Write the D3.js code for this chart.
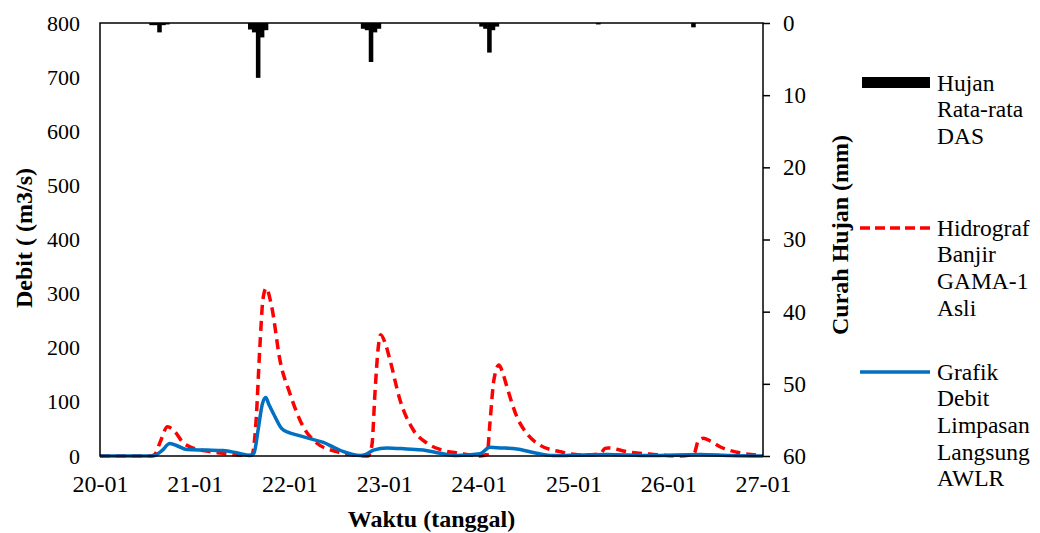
<!DOCTYPE html>
<html lang="en">
<head>
<meta charset="UTF-8">
<title>Hidrograf Banjir</title>
<script src="https://cdn.jsdelivr.net/npm/d3@7"></script>
<style>
    body { margin: 0; background: #fff; }
    text { font-family: "Liberation Serif", "Times New Roman", serif; }
</style>
</head>
<body>
<div id="chart"></div>
<script>
    // time is in hours from 20-01 00:00
    var startDate = new Date(2020, 0, 20);

    // rainfall (mm), hourly bars hanging from the top
    var rainHours = [13, 14, 15, 16, 17, 38, 39, 40, 41, 42, 66.6, 67.6, 68.6, 69.6, 70.6, 96.6, 97.6, 98.6, 99.5, 100.5, 126.2, 150.3];
    var rainMm    = [0.3, 0.3, 1.3, 0.3, 0.2, 0.9, 1.3, 7.6, 2.0, 1.0, 0.8, 1.0, 5.4, 1.3, 0.8, 0.5, 0.8, 4.1, 1.0, 0.5, 0.2, 0.6];

    // Hidrograf Banjir GAMA-1 Asli (m3/s)
    var gamaHours = [0, 12.7, 13.9, 15.2, 17.1, 19, 21, 22.8, 27, 31.2, 37.2, 38.5, 39.5, 40.5, 41.3, 42.1, 43.5, 45.6, 48.1, 51.5, 54.9, 60, 65, 67.9,
                     68.9, 69.7, 70.5, 71.1, 72.2, 73.5, 76, 79.4, 82.8, 86.2, 91.2, 96.3, 98.1, 98.8, 99.8, 101.1, 102.2, 103.1, 105.6, 108.1, 111.5,
                     116.6, 121.6, 126.7, 128, 128.8, 133.5, 140.2, 147, 150.5, 151.6, 152.9, 154.6, 157.1, 161.4, 168];
    var gamaQ     = [0, 0, 3, 25, 54, 45, 25, 17, 9, 5, 1, 2, 60, 200, 290, 310, 276, 177, 116, 54, 24, 8, 1, 0,
                     20, 120, 200, 224, 210, 177, 104, 48, 24, 12, 5, 0, 3, 60, 140, 168, 150, 128, 73, 42, 20,
                     8, 2, 4, 14, 15, 8, 3, 0, 4, 28, 33, 28, 17, 7, 1];

    // Grafik Debit Limpasan Langsung AWLR (m3/s)
    var awlrHours = [0, 12.7, 13.9, 15.7, 17.7, 19.8, 22, 27, 31.2, 34.6, 38, 39, 40.1, 41.1, 42, 42.8, 43.9, 46, 47.6, 49.8, 53.2, 56.6, 59, 61.7,
                     65.9, 67.4, 69.3, 72.7, 77.7, 81.9, 86.2, 90.4, 96.3, 98.8, 101.4, 105.6, 110.7, 114.8, 121.6, 128.4, 139.4, 152, 159.7, 168];
    var awlrQ     = [0, 0, 1, 10, 23, 18, 12, 11, 10, 6, 1, 5, 50, 95, 108, 95, 79, 51, 44, 39, 32, 25, 17, 8,
                     1, 3, 11, 15, 13, 11, 5, 1, 4, 16, 15, 13, 5, 1, 2, 3, 1, 3, 1, 0];

    var debitTicks = [0, 100, 200, 300, 400, 500, 600, 700, 800];
    var rainTicks = [0, 10, 20, 30, 40, 50, 60];

    var legendRain = ['Hujan', 'Rata-rata', 'DAS'];
    var legendGama = ['Hidrograf', 'Banjir', 'GAMA-1', 'Asli'];
    var legendAwlr = ['Grafik', 'Debit', 'Limpasan', 'Langsung', 'AWLR'];

    var width = 1040, height = 533;
    var margin = {top: 23, right: 277, bottom: 77, left: 100};

    function toDate(h) { return new Date(startDate.getTime() + h * 3600 * 1000); }

    var svg = d3.select('#chart').append('svg')
        .attr('width', width)
        .attr('height', height);

    var x = d3.scaleTime()
        .domain([startDate, toDate(168)])
        .range([margin.left, width - margin.right]);
    var y = d3.scaleLinear()
        .domain([0, 800])
        .range([height - margin.bottom, margin.top]);
    var yRain = d3.scaleLinear()
        .domain([0, 60])
        .range([margin.top, height - margin.bottom]);

    // rain bars
    svg.append('g').selectAll('rect')
        .data(rainHours.map((h, i) => ({h: h, v: rainMm[i]})))
        .join('rect')
        .attr('x', d => x(toDate(d.h - 0.5)))
        .attr('width', d => x(toDate(d.h + 0.5)) - x(toDate(d.h - 0.5)) + 0.6)
        .attr('y', yRain(0))
        .attr('height', d => yRain(d.v) - yRain(0))
        .attr('fill', '#000');

    var line = d3.line()
        .x(d => x(toDate(d[0])))
        .y(d => y(d[1]))
        .curve(d3.curveMonotoneX);

    svg.append('path')
        .datum(gamaHours.map((h, i) => [h, gamaQ[i]]))
        .attr('d', line)
        .attr('fill', 'none')
        .attr('stroke', '#FF0000')
        .attr('stroke-width', 3.5)
        .attr('stroke-dasharray', '10,6');

    svg.append('path')
        .datum(awlrHours.map((h, i) => [h, awlrQ[i]]))
        .attr('d', line)
        .attr('fill', 'none')
        .attr('stroke', '#0070C0')
        .attr('stroke-width', 3.5);

    // axes
    var xAxis = svg.append('g')
        .attr('transform', `translate(0,${height - margin.bottom})`)
        .call(d3.axisBottom(x).ticks(d3.timeDay.every(1)).tickFormat(d3.timeFormat('%d-%m')).tickSize(0).tickPadding(19));
    var yAxis = svg.append('g')
        .attr('transform', `translate(${margin.left},0)`)
        .call(d3.axisLeft(y).tickValues(debitTicks).tickSize(0).tickPadding(20));
    var rAxis = svg.append('g')
        .attr('transform', `translate(${width - margin.right},0)`)
        .call(d3.axisRight(yRain).tickValues(rainTicks).tickSize(7).tickPadding(13));

    [[xAxis, 24], [yAxis, 22], [rAxis, 23]].forEach(([g, fs]) => {
        g.selectAll('.domain').remove();
        g.selectAll('text').attr('font-size', fs).attr('fill', '#000')
            .style('font-family', '"Liberation Serif", "Times New Roman", serif');
        g.selectAll('line').attr('stroke', '#000').attr('stroke-width', 1.5);
    });

    // frame
    svg.append('rect')
        .attr('x', margin.left)
        .attr('y', margin.top)
        .attr('width', width - margin.left - margin.right)
        .attr('height', height - margin.top - margin.bottom)
        .attr('fill', 'none')
        .attr('stroke', '#000')
        .attr('stroke-width', 1.5);

    // axis titles
    svg.append('text')
        .attr('x', (margin.left + width - margin.right) / 2)
        .attr('y', 527)
        .attr('text-anchor', 'middle')
        .attr('font-size', 24)
        .attr('font-weight', 'bold')
        .text('Waktu (tanggal)');
    svg.append('text')
        .attr('transform', 'translate(32,238) rotate(-90)')
        .attr('text-anchor', 'middle')
        .attr('font-size', 24)
        .attr('font-weight', 'bold')
        .text('Debit ( (m3/s)');
    svg.append('text')
        .attr('transform', 'translate(848,235) rotate(-90)')
        .attr('text-anchor', 'middle')
        .attr('font-size', 24)
        .attr('font-weight', 'bold')
        .text('Curah Hujan (mm)');

    // legend
    var legX = 937, lineH = 26.6;
    function legendText(lines, yc) {
        svg.append('text')
            .attr('x', legX)
            .attr('y', yc)
            .attr('font-size', 23.5)
            .selectAll('tspan')
            .data(lines)
            .join('tspan')
            .attr('x', legX)
            .attr('dy', (d, i) => i === 0 ? '0.33em' : lineH)
            .text(d => d);
    }
    svg.append('rect').attr('x', 862).attr('y', 77).attr('width', 68).attr('height', 11).attr('fill', '#000');
    legendText(legendRain, 83);
    svg.append('line').attr('x1', 860).attr('x2', 930).attr('y1', 228).attr('y2', 228)
        .attr('stroke', '#FF0000').attr('stroke-width', 3.5).attr('stroke-dasharray', '10,5');
    legendText(legendGama, 228);
    svg.append('line').attr('x1', 860).attr('x2', 930).attr('y1', 372).attr('y2', 372)
        .attr('stroke', '#0070C0').attr('stroke-width', 3.5);
    legendText(legendAwlr, 372);
</script>
</body>
</html>
